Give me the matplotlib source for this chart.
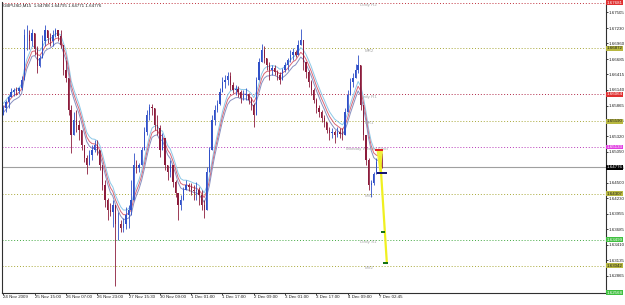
import matplotlib
matplotlib.use('Agg')
import matplotlib.pyplot as plt
from matplotlib import font_manager as fm
from matplotlib.textpath import TextPath
import numpy as np
import pandas as pd

highs = [1.6587, 1.6596, 1.6605, 1.6617, 1.6617, 1.6619, 1.6620, 1.6638, 1.6722, 1.6728,
         1.6719, 1.6722, 1.6705, 1.6692, 1.6675, 1.6710, 1.6728, 1.6719, 1.6715, 1.6719,
         1.6724, 1.6719, 1.6719, 1.6693, 1.6667, 1.6635, 1.6587, 1.6575, 1.6579, 1.6561,
         1.6530, 1.6512, 1.6500, 1.6508, 1.6517, 1.6526, 1.6526, 1.6508, 1.6482, 1.6456,
         1.6424, 1.6415, 1.6420, 1.6412, 1.6398, 1.6385, 1.6389, 1.6408, 1.6412, 1.6456,
         1.6503, 1.6491, 1.6486, 1.6514, 1.6549, 1.6579, 1.6589, 1.6589, 1.6582, 1.6570,
         1.6552, 1.6538, 1.6508, 1.6482, 1.6491, 1.6482, 1.6456, 1.6429, 1.6429, 1.6442,
         1.6456, 1.6450, 1.6450, 1.6447, 1.6452, 1.6442, 1.6438, 1.6420, 1.6479, 1.6514,
         1.6570, 1.6587, 1.6596, 1.6617, 1.6637, 1.6640, 1.6645, 1.6645, 1.6628, 1.6623,
         1.6621, 1.6614, 1.6614, 1.6617, 1.6609, 1.6602, 1.6591, 1.6637, 1.6670, 1.6695,
         1.6691, 1.6670, 1.6663, 1.6658, 1.6658, 1.6649, 1.6645, 1.6653, 1.6663, 1.6670,
         1.6684, 1.6688, 1.6684, 1.6702, 1.6721, 1.6693, 1.6663, 1.6649, 1.6631, 1.6617,
         1.6600, 1.6587, 1.6579, 1.6570, 1.6558, 1.6549, 1.6547, 1.6544, 1.6549, 1.6547,
         1.6547, 1.6582, 1.6614, 1.6635, 1.6644, 1.6660, 1.6675, 1.6637, 1.6584, 1.6526,
         1.6494, 1.6456, 1.6470, 1.6494, 1.6503, 1.6503]
lows = [1.6570, 1.6575, 1.6582, 1.6601, 1.6603, 1.6605, 1.6606, 1.6614, 1.6657, 1.6684,
        1.6687, 1.6692, 1.6675, 1.6643, 1.6654, 1.6675, 1.6692, 1.6696, 1.6692, 1.6692,
        1.6707, 1.6701, 1.6688, 1.6640, 1.6628, 1.6570, 1.6503, 1.6535, 1.6540, 1.6526,
        1.6508, 1.6487, 1.6465, 1.6482, 1.6491, 1.6505, 1.6500, 1.6473, 1.6438, 1.6408,
        1.6385, 1.6391, 1.6373, 1.6268, 1.6350, 1.6363, 1.6364, 1.6368, 1.6371, 1.6394,
        1.6470, 1.6468, 1.6470, 1.6482, 1.6508, 1.6535, 1.6561, 1.6570, 1.6544, 1.6535,
        1.6496, 1.6508, 1.6473, 1.6456, 1.6461, 1.6443, 1.6426, 1.6385, 1.6403, 1.6420,
        1.6438, 1.6435, 1.6429, 1.6420, 1.6420, 1.6412, 1.6403, 1.6389, 1.6420, 1.6473,
        1.6517, 1.6552, 1.6575, 1.6587, 1.6610, 1.6617, 1.6623, 1.6614, 1.6609, 1.6605,
        1.6602, 1.6591, 1.6596, 1.6596, 1.6589, 1.6579, 1.6549, 1.6605, 1.6635, 1.6670,
        1.6661, 1.6649, 1.6631, 1.6640, 1.6640, 1.6631, 1.6624, 1.6631, 1.6645, 1.6649,
        1.6663, 1.6666, 1.6672, 1.6675, 1.6693, 1.6649, 1.6635, 1.6619, 1.6605, 1.6591,
        1.6573, 1.6566, 1.6558, 1.6549, 1.6538, 1.6526, 1.6530, 1.6521, 1.6531, 1.6530,
        1.6526, 1.6540, 1.6579, 1.6605, 1.6619, 1.6637, 1.6644, 1.6579, 1.6526, 1.6482,
        1.6438, 1.6426, 1.6447, 1.6473, 1.6482, 1.6477]
closes = [1.6582, 1.6592, 1.6601, 1.6610, 1.6614, 1.6612, 1.6617, 1.6631, 1.6710, 1.6710,
          1.6701, 1.6714, 1.6687, 1.6657, 1.6670, 1.6701, 1.6719, 1.6705, 1.6701, 1.6710,
          1.6719, 1.6709, 1.6693, 1.6649, 1.6635, 1.6579, 1.6535, 1.6561, 1.6552, 1.6544,
          1.6517, 1.6494, 1.6482, 1.6500, 1.6508, 1.6517, 1.6508, 1.6482, 1.6447, 1.6420,
          1.6403, 1.6399, 1.6412, 1.6377, 1.6377, 1.6371, 1.6377, 1.6394, 1.6403, 1.6420,
          1.6482, 1.6477, 1.6482, 1.6508, 1.6540, 1.6570, 1.6584, 1.6582, 1.6552, 1.6547,
          1.6508, 1.6530, 1.6482, 1.6470, 1.6482, 1.6452, 1.6433, 1.6412, 1.6420, 1.6438,
          1.6447, 1.6442, 1.6438, 1.6435, 1.6438, 1.6429, 1.6412, 1.6403, 1.6470, 1.6508,
          1.6561, 1.6579, 1.6589, 1.6610, 1.6628, 1.6631, 1.6638, 1.6623, 1.6614, 1.6616,
          1.6610, 1.6600, 1.6605, 1.6607, 1.6596, 1.6587, 1.6570, 1.6631, 1.6663, 1.6684,
          1.6670, 1.6658, 1.6649, 1.6653, 1.6645, 1.6640, 1.6631, 1.6649, 1.6658, 1.6666,
          1.6675, 1.6681, 1.6675, 1.6693, 1.6702, 1.6663, 1.6645, 1.6628, 1.6614, 1.6596,
          1.6582, 1.6575, 1.6565, 1.6558, 1.6544, 1.6538, 1.6540, 1.6535, 1.6540, 1.6537,
          1.6535, 1.6575, 1.6605, 1.6628, 1.6635, 1.6649, 1.6658, 1.6587, 1.6535, 1.6491,
          1.6447, 1.6450, 1.6465, 1.6487, 1.6494, 1.64776]
first_open = 1.6570

time_labels = ['24 Nov 2009', '25 Nov 15:00', '26 Nov 07:00', '26 Nov 23:00', '27 Nov 15:30',
               '30 Nov 09:00', '1 Dec 01:00', '1 Dec 17:00', '2 Dec 09:00', '3 Dec 01:00',
               '3 Dec 17:00', '4 Dec 09:00', '7 Dec 02:45']
label_every = 12

price_ticks = [1.67505, 1.67230, 1.66960, 1.66685, 1.66415, 1.66140, 1.65865, 1.65595, 1.65320,
               1.65050, 1.64775, 1.64500, 1.64230, 1.63955, 1.63685, 1.63410, 1.63135, 1.62865]

# pivot levels
level_names = ['Daily R2', 'MR2', 'Daily R1', 'MR1', 'Monday Weekly Pivot', 'MS1', 'Daily S1', 'MS2', '']
level_prices = [1.67681, 1.66872, 1.66064, 1.65590, 1.65133, 1.64307, 1.63499, 1.63042, 1.62568]
level_colors = ['#c0303c', '#a8a838', '#b02848', '#a8a838', '#b838b8', '#a8a838', '#40a840', '#a8a838', '#40b040']
box_colors = ['#e03030', '#b8b840', '#e03030', '#b8b840', '#e040e0', '#b8b840', '#40c040', '#b8b840', '#40c040']
bid = 1.64776
header = 'GBPUSD,M15  1.64788 1.64795 1.64771 1.64776'

# trader's projection and marks
proj_x = [144.4, 147.0]
proj_y = [1.6496, 1.6309]
mark_x0 = [142.5, 143.2, 144.7, 145.5]
mark_x1 = [145.5, 147.1, 146.3, 147.4]
mark_y = [1.6508, 1.6467, 1.6364, 1.6309]
mark_colors = ['#e02020', '#101070', '#107010', '#107010']
tri_x = [143.3, 145.3, 144.4]
tri_y = [1.6508, 1.6508, 1.6470]

# small terminal font: Liberation Sans sized so a price label fits the ~16 px margin
fp = fm.FontProperties(family=['Liberation Sans', 'DejaVu Sans'], size=10)
w10 = TextPath((0, 0), '1.67505', prop=fp).get_extents().width * 100 / 72
fs = min(5.0, 10 * 15.3 / w10)
fp.set_size(fs)

fig = plt.figure(figsize=(6.25, 3.05), dpi=100)
ax = fig.add_axes([2 / 625, 12 / 305, 604 / 625, 291 / 305])

closes = np.array(closes)
opens = np.concatenate([[first_open], closes[:-1]])
idx = np.arange(len(closes))
hi = np.maximum(highs, np.maximum(opens, closes))
lo = np.minimum(lows, np.minimum(opens, closes))
up = closes >= opens
cols = np.where(up, '#3050c8', '#8c1c3c')

# moving average ribbon
ma = pd.Series(closes).ewm(span=7).mean()
ax.plot(idx, ma * 1.0005, color='#8cc8e8', lw=0.7, zorder=2)
ax.plot(idx, ma, color='#d86878', lw=0.7, zorder=2)
ax.plot(idx, ma * 0.9995, color='#8890c0', lw=0.7, zorder=2)

ax.vlines(idx, lo, hi, colors=cols, lw=0.6, zorder=3)
body = np.maximum(np.abs(closes - opens), 0.00006)
ax.bar(idx, body, bottom=np.minimum(opens, closes), width=0.5, color=cols, zorder=3)

for name, p, c in zip(level_names, level_prices, level_colors):
    ax.axhline(p, color=c, lw=0.7, ls=(0, (1, 2)), zorder=1)
    if name:
        xpos = 131.4 if name.startswith('Monday') else (136.7 if name.startswith('Daily') else 138.6)
        ax.text(xpos, p - 0.00005, name, fontproperties=fp, color='#a8a8a8', va='top', ha='left', zorder=2)

ax.axhline(bid, color='#a0a0a0', lw=0.8, zorder=1)

ax.fill(tri_x, tri_y, color='#f0f040', zorder=4)
ax.plot(proj_x, proj_y, color='#f0f020', lw=1.6, zorder=4)
for x0, x1, y, c in zip(mark_x0, mark_x1, mark_y, mark_colors):
    ax.plot([x0, x1], [y, y], color=c, lw=1.4, zorder=5, solid_capstyle='butt')

ax.set_xlim(-0.5, 231.0)
ax.set_ylim(1.62560, 1.67690)

ax.set_xticks(idx[::label_every])
ax.set_xticklabels(time_labels, ha='left')
ax.yaxis.tick_right()
ax.set_yticks(price_ticks)
ax.set_yticklabels(['%.5f' % t for t in price_ticks])
for t in ax.get_xticklabels() + ax.get_yticklabels():
    t.set_fontproperties(fp)
ax.tick_params(axis='both', length=1.5, width=0.6, pad=0.3, colors='#202020')
for s in ['left', 'right', 'bottom']:
    ax.spines[s].set_color('#303030')
    ax.spines[s].set_linewidth(0.8)
ax.spines['top'].set_visible(False)

yt = ax.get_yaxis_transform()
for p, c in zip(level_prices, box_colors):
    tc = '#202020' if c == '#b8b840' else 'white'
    ax.text(1.0015, p, '%.5f' % p, transform=yt, fontproperties=fp, color=tc, va='center', ha='left',
            bbox=dict(boxstyle='square,pad=0.1', fc=c, ec='none'), clip_on=False, zorder=6)
ax.text(1.0015, bid, '%.5f' % bid, transform=yt, fontproperties=fp, color='white', va='center', ha='left',
        bbox=dict(boxstyle='square,pad=0.1', fc='black', ec='none'), clip_on=False, zorder=6)

ax.text(0.002, 0.995, header, transform=ax.transAxes, fontproperties=fp, color='#202020', va='top', ha='left')

fig.savefig('out.png', dpi=100)
